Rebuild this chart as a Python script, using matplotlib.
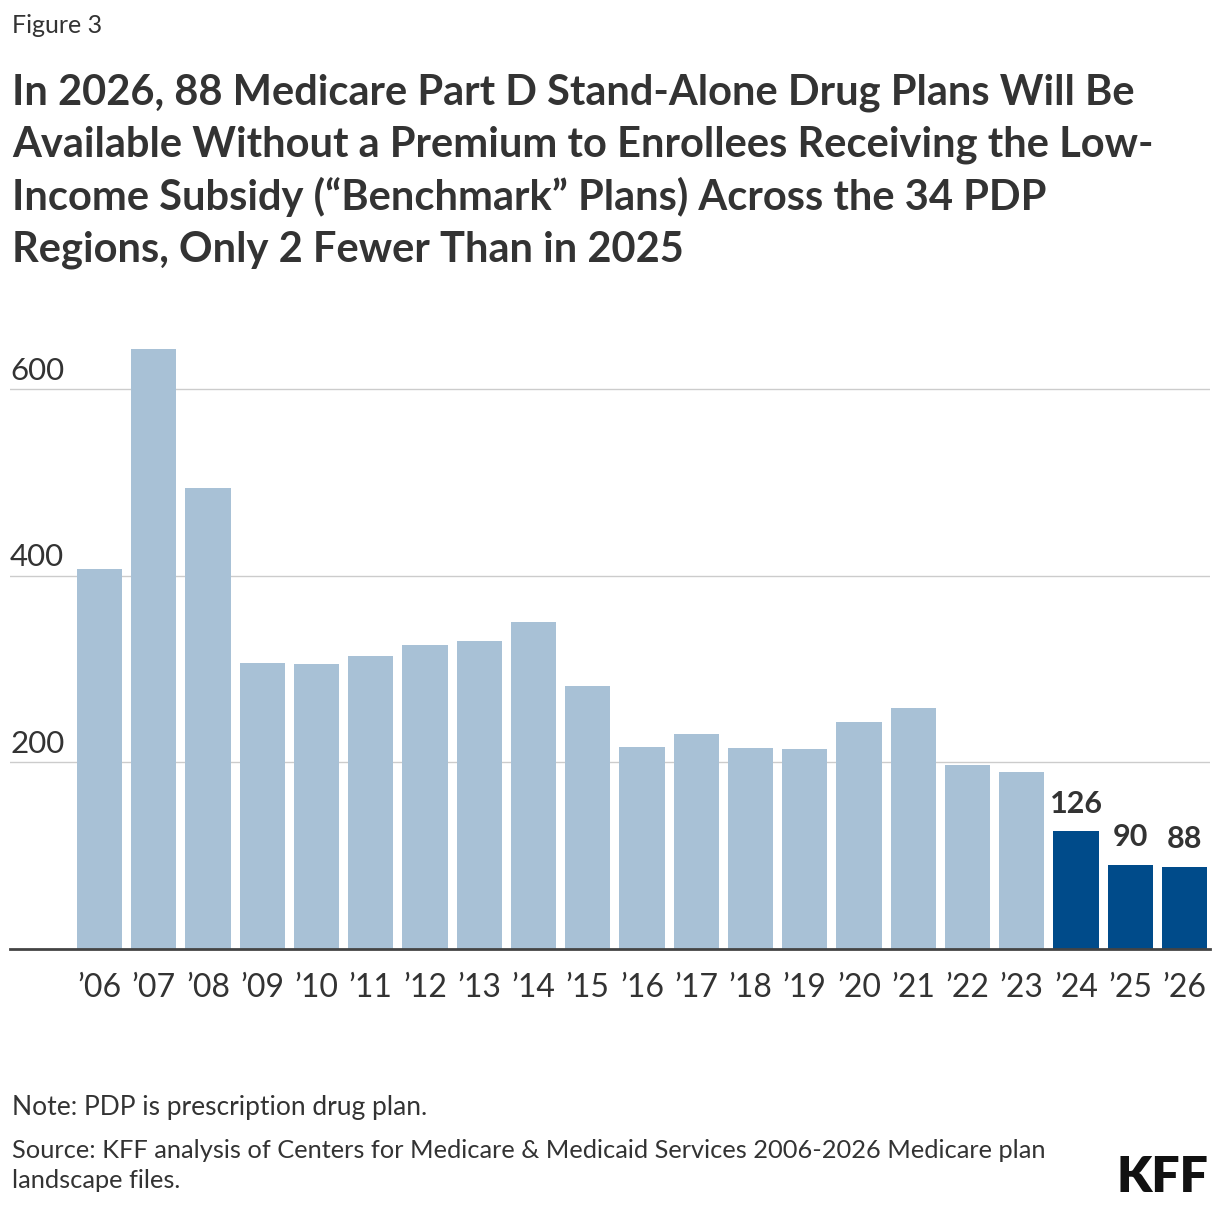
import matplotlib.pyplot as plt
from matplotlib.transforms import blended_transform_factory

# benchmark PDPs per year
years = ['06', '07', '08', '09', '10', '11', '12', '13', '14', '15', '16',
         '17', '18', '19', '20', '21', '22', '23', '24', '25', '26']
plans = [408, 643, 494, 307, 306, 314, 326, 330, 351, 282, 217,
         231, 216, 214, 243, 258, 197, 190, 126, 90, 88]
labeled_years = ['24', '25', '26']   # highlighted bars that carry a value label
yticks = [200, 400, 600]

LIGHT = '#a8c1d6'
DARK = '#004b8a'
TEXT = '#333333'

W, H = 1220, 1210
plt.rcParams['font.family'] = ['Lato', 'DejaVu Sans']

fig = plt.figure(figsize=(W / 100, H / 100), dpi=100)

# axes placed in pixel terms: left 10, right 1210, baseline at y=949
ax = fig.add_axes([10 / W, 1 - 949 / H, 1200 / W, 615.5 / H])
x = list(range(len(years)))
colors = [DARK if y in labeled_years else LIGHT for y in years]
ax.bar(x, plans, width=0.83, color=colors, zorder=2)
ax.set_xlim(-1.65, 20.47)
ax.set_ylim(0, 660)

for s in ['top', 'right', 'left']:
    ax.spines[s].set_visible(False)
ax.spines['bottom'].set_color('#444444')
ax.spines['bottom'].set_linewidth(2)
ax.spines['bottom'].set_zorder(3)

ax.set_yticks(yticks)
ax.yaxis.grid(True, color='#cccccc', linewidth=1)
ax.tick_params(axis='y', length=0, labelleft=False)
trans = blended_transform_factory(ax.transAxes, ax.transData)
for v in yticks:
    ax.annotate(str(v), (0, v), xycoords=trans, xytext=(0, 3.5),
                textcoords='offset points', ha='left', va='bottom',
                fontsize=22.5, color=TEXT)

ax.set_xticks(x)
ax.set_xticklabels(['\u2019' + y for y in years], fontsize=23, color=TEXT)
ax.tick_params(axis='x', length=0, pad=17)

for i, y in enumerate(years):
    if y in labeled_years:
        ax.annotate(str(plans[i]), (i, plans[i]), xytext=(0, 10),
                    textcoords='offset points', ha='center', va='bottom',
                    fontsize=22, fontweight='bold', color=TEXT)

fig.text(12 / W, 1 - 14 / H, 'Figure 3', ha='left', va='top',
         fontsize=18, color=TEXT)
title = ('In 2026, 88 Medicare Part D Stand-Alone Drug Plans Will Be\n'
         'Available Without a Premium to Enrollees Receiving the Low-\n'
         'Income Subsidy (\u201cBenchmark\u201d Plans) Across the 34 PDP\n'
         'Regions, Only 2 Fewer Than in 2025')
fig.text(12 / W, 1 - 74 / H, title, ha='left', va='top', fontsize=30,
         fontweight='bold', color=TEXT, linespacing=1.41)

fig.text(12 / W, 1 - 1095 / H, 'Note: PDP is prescription drug plan.',
         ha='left', va='top', fontsize=19, color=TEXT)
fig.text(12 / W, 1 - 1139 / H,
         'Source: KFF analysis of Centers for Medicare & Medicaid Services 2006-2026 Medicare plan\n'
         'landscape files.',
         ha='left', va='top', fontsize=18.3, color=TEXT, linespacing=1.36)
fig.text(1208 / W, 1 - 1192 / H, 'KFF', ha='right', va='baseline',
         fontsize=36, fontweight='heavy', color='#111111', fontstretch='condensed')

fig.savefig('out.png', dpi=100)
